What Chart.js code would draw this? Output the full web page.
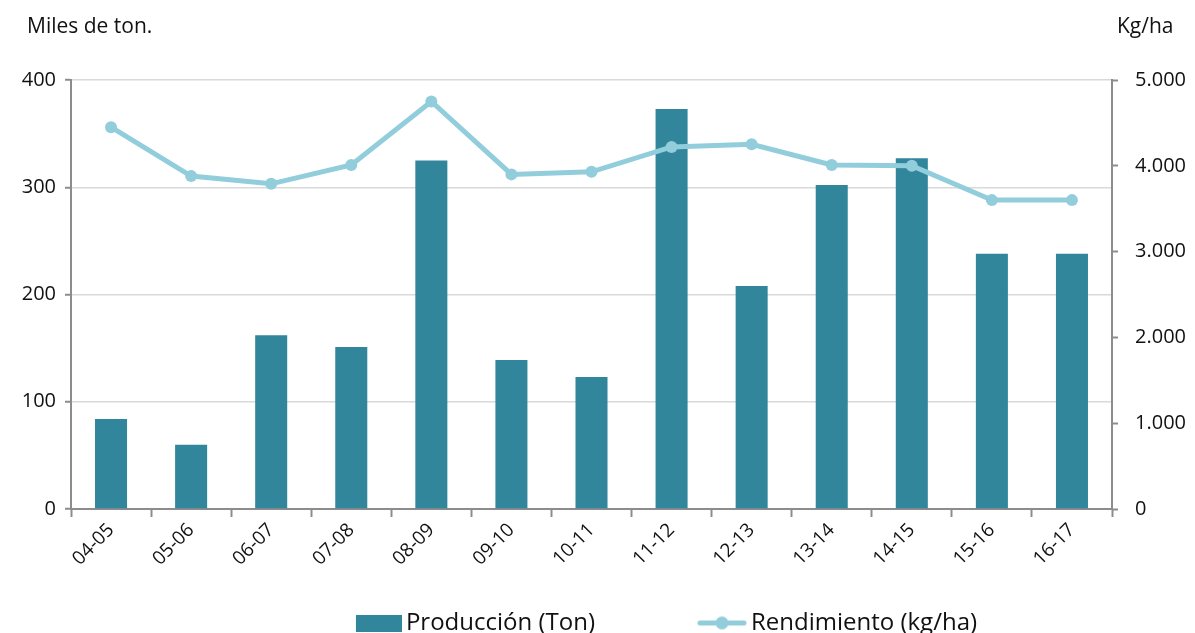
<!DOCTYPE html>
<html>
<head>
<meta charset="utf-8">
<script src="https://cdn.jsdelivr.net/npm/chart.js@4/dist/chart.umd.min.js"></script>
<style>
  html, body { margin: 0; padding: 0; background: #fff; }
  #wrap { width: 1195px; height: 633px; }
</style>
</head>
<body>
<div id="wrap"><canvas id="myChart" width="1195" height="633"></canvas></div>
<script>
// datos
var campanas = ['04-05', '05-06', '06-07', '07-08', '08-09', '09-10', '10-11', '11-12', '12-13', '13-14', '14-15', '15-16', '16-17'];
var produccion = [84, 60, 162, 151, 325, 139, 123, 373, 208, 302, 327, 238, 238];
var rendimiento = [4450, 3880, 3790, 4010, 4750, 3900, 3930, 4220, 4250, 4010, 4000, 3600, 3600];

var colorBarra = '#31869b';
var colorLinea = '#92cddc';
var fuente = "'Open Sans', 'DejaVu Sans', sans-serif";
var tamLeyenda = 24;
var anchoCaja = 140;

// iconos de la leyenda: lienzo ancho, dibujo pegado a la derecha (cerca del texto)
function lienzoIcono() {
    var c = document.createElement('canvas');
    c.width = anchoCaja + tamLeyenda - 8;
    c.height = 17;
    return c;
}
function iconoBarra() {
    var c = lienzoIcono();
    var g = c.getContext('2d');
    g.fillStyle = colorBarra;
    g.fillRect(c.width - 46, 0, 46, 17);
    return c;
}
function iconoLinea() {
    var c = lienzoIcono();
    var w = c.width;
    var g = c.getContext('2d');
    g.strokeStyle = colorLinea;
    g.lineWidth = 5;
    g.lineCap = 'round';
    g.beginPath(); g.moveTo(w - 47, 8.5); g.lineTo(w - 3, 8.5); g.stroke();
    g.fillStyle = colorLinea;
    g.beginPath(); g.arc(w - 25, 8.5, 6.5, 0, Math.PI * 2); g.fill();
    return c;
}
var icoBarra = iconoBarra();
var icoLinea = iconoLinea();

var titulos = {
    id: 'titulos',
    afterLayout: function(chart) {
        // mover la leyenda un poco a la derecha y hacia abajo
        var lg = chart.legend;
        lg.left += 18; lg.right += 18;
        lg.top += 12; lg.bottom += 12;
    },
    afterDraw: function(chart) {
        var ctx = chart.ctx;
        ctx.save();
        ctx.fillStyle = '#111';
        ctx.font = '21px ' + fuente;
        ctx.textBaseline = 'middle';
        ctx.textAlign = 'left';
        ctx.fillText('Miles de ton.', 27, 27);
        ctx.fillText('Kg/ha', 1117, 27);
        ctx.restore();
    }
};

var data = {
    labels: campanas,
    datasets: [
        {
            type: 'line',
            label: 'Rendimiento (kg/ha)',
            data: rendimiento,
            yAxisID: 'y2',
            borderColor: colorLinea,
            backgroundColor: colorLinea,
            borderWidth: 5,
            pointRadius: 6,
            pointBackgroundColor: colorLinea,
            pointBorderWidth: 0,
            order: 1
        },
        {
            type: 'bar',
            label: 'Producción (Ton)',
            data: produccion,
            yAxisID: 'y',
            backgroundColor: colorBarra,
            categoryPercentage: 1,
            barPercentage: 0.4,
            order: 2
        }
    ]
};

var ejeGris = '#8c8c8c';

var options = {
    responsive: false,
    animation: false,
    layout: { padding: { top: 80, left: 0, right: 0, bottom: 0 } },
    plugins: {
        legend: {
            position: 'bottom',
            reverse: true,
            labels: {
                usePointStyle: true,
                pointStyleWidth: anchoCaja,
                color: '#111',
                font: { family: fuente, size: tamLeyenda },
                padding: 4,
                generateLabels: function(chart) {
                    var items = Chart.defaults.plugins.legend.labels.generateLabels(chart);
                    items.forEach(function(it) {
                        it.pointStyle = it.datasetIndex === 0 ? icoLinea : icoBarra;
                    });
                    return items;
                }
            }
        },
        tooltip: { enabled: false }
    },
    scales: {
        x: {
            offset: true,
            grid: { drawOnChartArea: false, color: ejeGris, tickLength: 8, tickWidth: 2, offset: true },
            border: { color: ejeGris, width: 2 },
            ticks: {
                color: '#111',
                font: { family: fuente, size: 19 },
                maxRotation: 45,
                minRotation: 45,
                padding: 2
            },
            afterFit: function(s) { s.height = 86; }
        },
        y: {
            position: 'left',
            min: 0, max: 400,
            ticks: { stepSize: 100, color: '#111', font: { family: fuente, size: 20 }, padding: 9 },
            grid: { color: '#d9d9d9', lineWidth: 1.5, tickColor: ejeGris, tickLength: 6, tickWidth: 2 },
            border: { color: ejeGris, width: 2 },
            afterFit: function(s) { s.width = 71; }
        },
        y2: {
            position: 'right',
            min: 0, max: 5000,
            ticks: {
                stepSize: 1000,
                color: '#111',
                font: { family: fuente, size: 20 },
                padding: 17,
                callback: function(v) { return v.toString().replace(/\B(?=(\d{3})+(?!\d))/g, '.'); }
            },
            grid: { drawOnChartArea: false, color: ejeGris, tickLength: 6, tickWidth: 2 },
            border: { color: ejeGris, width: 2 },
            afterFit: function(s) { s.width = 83; }
        }
    }
};

var ctx1 = document.getElementById('myChart').getContext('2d');
var grafico = new Chart(ctx1, {
    type: 'bar',
    data: data,
    options: options,
    plugins: [titulos]
});
</script>
</body>
</html>
